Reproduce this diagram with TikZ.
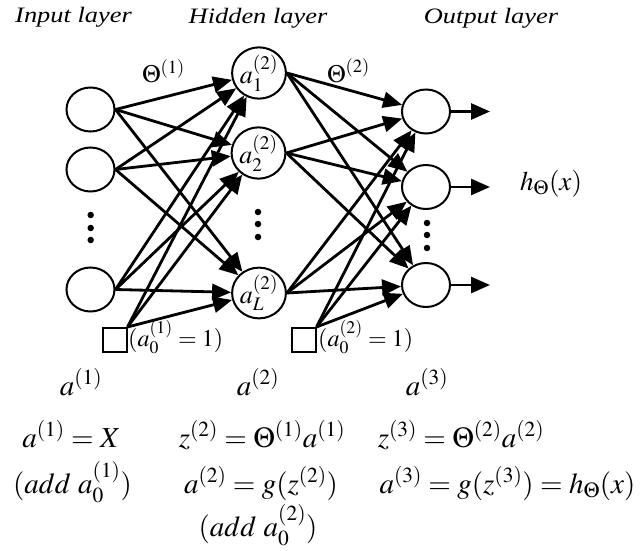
\documentclass[tikz,border=0pt]{standalone}
\usepackage{mathptmx}
\usepackage{fontspec}
\setmainfont{Liberation Serif}
\usetikzlibrary{shapes.geometric,arrows.meta}
\begin{document}
\begin{tikzpicture}[x=1pt,y=-1pt,
  neuron/.style={ellipse,draw,line width=2pt,minimum width=48pt,minimum height=44pt,inner sep=0pt},
  biasbox/.style={rectangle,draw,line width=2pt,minimum size=24pt,inner sep=0pt},
  arr/.style={line width=2.8pt,-{Triangle[length=19pt,width=16pt]}},
  title/.style={font=\fontsize{22}{26}\selectfont\itshape,xscale=1.2,anchor=base,inner sep=0pt},
  nlabel/.style={font=\fontsize{26}{30}\selectfont},
  smalllab/.style={font=\fontsize{24}{28}\selectfont,anchor=base west,inner sep=0pt},
  eqn/.style={font=\fontsize{29}{34}\selectfont,anchor=base,inner sep=0pt},
  dotnode/.style={circle,fill,inner sep=0pt,minimum size=6.5pt}]
\useasboundingbox (0,0) rectangle (640,551);

% titles
\node[title] (tin) at (73.5,23) {Input layer};
\node[title] (thid) at (258,24) {Hidden layer};
\node[title] (tout) at (491,24) {Output layer};

% input layer
\node[neuron] (I1) at (90.5,109.5) {};
\node[neuron] (I2) at (90.5,169.5) {};
\node[neuron] (I4) at (90.5,289.5) {};
\node[dotnode] (id1) at (90.7,215) {};
\node[dotnode] (id2) at (90.7,228) {};
\node[dotnode] (id3) at (90.7,240) {};
\node[biasbox] (B1) at (114.5,340) {};

% hidden layer
\node[neuron,nlabel,minimum height=46pt] (H1) at (259,73) {$a_1^{(2)}$};
\node[neuron,nlabel] (H2) at (258.5,153) {$a_2^{(2)}$};
\node[neuron,nlabel] (HL) at (259,293) {$a_L^{(2)}$};
\node[dotnode] (hd1) at (258,212) {};
\node[dotnode] (hd2) at (258,224) {};
\node[dotnode] (hd3) at (258,237) {};
\node[biasbox] (B2) at (303.5,340) {};

% output layer
\node[neuron] (O1) at (426,111.5) {};
\node[neuron] (O2) at (426,187) {};
\node[neuron] (O3) at (426,285) {};
\node[dotnode] (od1) at (427,223) {};
\node[dotnode] (od2) at (427,235) {};
\node[dotnode] (od3) at (427,248) {};
\coordinate (E1) at (490,111.5);
\coordinate (E2) at (490,187);
\coordinate (E3) at (490,285);

% connections input -> hidden
\foreach \s in {I1,I2,I4}{
  \foreach \t in {H1,H2,HL}{
    \draw[arr] (\s.east) -- (\t);
  }
}
\foreach \t in {H1,H2,HL}{
  \draw[arr] (B1.north east) -- (\t);
}
% connections hidden -> output
\foreach \s in {H1,H2,HL}{
  \foreach \t in {O1,O2,O3}{
    \draw[arr] (\s.east) -- (\t);
  }
}
\foreach \t in {O1,O2,O3}{
  \draw[arr] (B2.north east) -- (\t);
}
% outputs
\draw[arr] (O1.east) -- (E1);
\draw[arr] (O2.east) -- (E2);
\draw[arr] (O3.east) -- (E3);

% labels
\node[smalllab,font=\fontsize{25}{29}\selectfont] (th1) at (142,83) {$\Theta^{(1)}$};
\node[smalllab,font=\fontsize{25}{29}\selectfont] (th2) at (327,82) {$\Theta^{(2)}$};
\node[smalllab,font=\fontsize{27}{31}\selectfont] (hx) at (520,190) {$h_{\Theta}(x)$};
\node[smalllab] (b1l) at (128,346) {$(a_0^{(1)}=1)$};
\node[smalllab] (b2l) at (318,346) {$(a_0^{(2)}=1)$};

% bottom equations
\node[eqn] (r1a) at (81,395) {$a^{(1)}$};
\node[eqn] (r1b) at (258,395) {$a^{(2)}$};
\node[eqn] (r1c) at (427,395) {$a^{(3)}$};
\node[eqn] (r2a) at (71.5,447) {$a^{(1)}=X$};
\node[eqn] (r2b) at (262,447) {$z^{(2)}=\Theta^{(1)}a^{(1)}$};
\node[eqn] (r2c) at (461,447) {$z^{(3)}=\Theta^{(2)}a^{(2)}$};
\node[eqn] (r3a) at (72.5,493) {$(add\ a_0^{(1)})$};
\node[eqn] (r3b) at (261,493) {$a^{(2)}=g(z^{(2)})$};
\node[eqn] (r3c) at (507.5,493) {$a^{(3)}=g(z^{(3)})=h_{\Theta}(x)$};
\node[eqn] (r4b) at (258,536) {$(add\ a_0^{(2)})$};
\end{tikzpicture}
\end{document}
